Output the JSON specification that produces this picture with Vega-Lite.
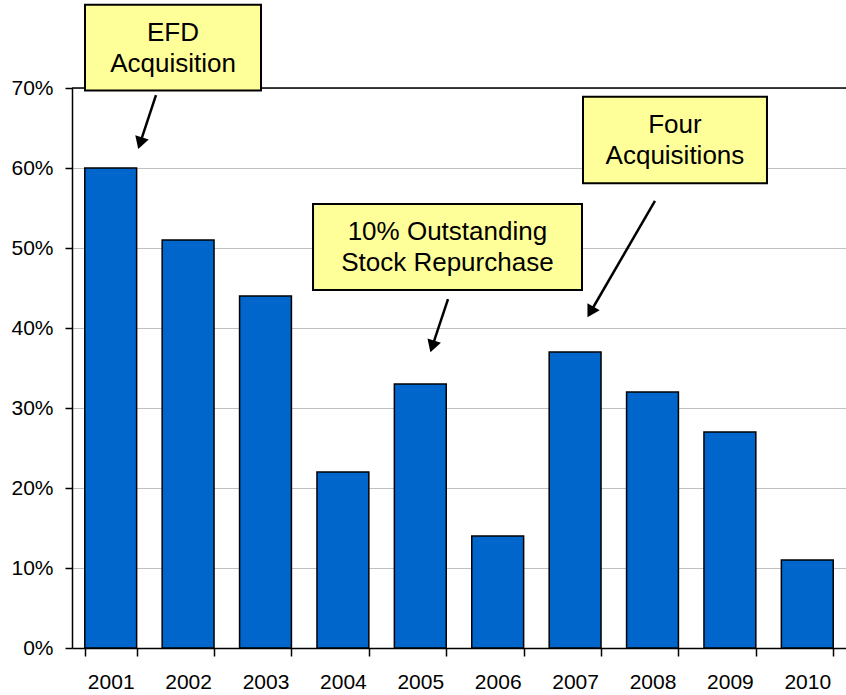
{
  "$schema": "https://vega.github.io/schema/vega-lite/v6.json",
  "width": 774,
  "height": 560,
  "autosize": {"type": "none"},
  "padding": {"left": 72, "top": 88, "right": 0, "bottom": 47},
  "config": {"font": "Liberation Sans", "view": {"stroke": null}},
  "datasets": {
    "bars": [
      {"year": "2001", "value": 0.60},
      {"year": "2002", "value": 0.51},
      {"year": "2003", "value": 0.44},
      {"year": "2004", "value": 0.22},
      {"year": "2005", "value": 0.33},
      {"year": "2006", "value": 0.14},
      {"year": "2007", "value": 0.37},
      {"year": "2008", "value": 0.32},
      {"year": "2009", "value": 0.27},
      {"year": "2010", "value": 0.11}
    ],
    "boxes": [
      {"label": ["EFD", "Acquisition"], "x1": 2000.668, "x2": 2002.942, "y1": 0.804, "y2": 0.697, "xc": 2001.805, "yc": 0.75},
      {"label": ["10% Outstanding", "Stock Repurchase"], "x1": 2003.614, "x2": 2007.089, "y1": 0.555, "y2": 0.4475, "xc": 2005.35, "yc": 0.501},
      {"label": ["Four", "Acquisitions"], "x1": 2007.102, "x2": 2009.479, "y1": 0.689, "y2": 0.581, "xc": 2008.29, "yc": 0.635}
    ],
    "arrows": [
      {"id": "efd", "x": 2001.585, "y": 0.691, "order": 0},
      {"id": "efd", "x": 2001.38, "y": 0.631, "order": 1},
      {"id": "buyback", "x": 2005.358, "y": 0.436, "order": 0},
      {"id": "buyback", "x": 2005.155, "y": 0.377, "order": 1},
      {"id": "four", "x": 2008.032, "y": 0.559, "order": 0},
      {"id": "four", "x": 2007.199, "y": 0.42, "order": 1}
    ]
  },
  "layer": [
    {
      "data": {"name": "bars"},
      "mark": {"type": "bar", "fill": "#0066CC", "stroke": "#000000", "strokeWidth": 1.5},
      "encoding": {
        "x": {
          "field": "year", "type": "ordinal",
          "scale": {"paddingInner": 0.33, "paddingOuter": 0.165},
          "axis": {"title": null, "labelAngle": 0, "tickBand": "extent", "tickSize": 8, "labelPadding": 15, "labelFontSize": 21, "labelColor": "#000000", "domainColor": "#000000", "domainWidth": 1.5, "tickColor": "#000000", "tickWidth": 1.5, "grid": false}
        },
        "y": {
          "field": "value", "type": "quantitative",
          "scale": {"domain": [0, 0.7], "nice": false},
          "axis": {"title": null, "format": ".0%", "values": [0, 0.1, 0.2, 0.3, 0.4, 0.5, 0.6, 0.7], "tickSize": 7, "labelPadding": 12, "labelFontSize": 21, "labelColor": "#000000", "domainColor": "#000000", "domainWidth": 1.5, "tickColor": "#000000", "tickWidth": 1.5, "gridColor": "#c0c0c0", "gridWidth": 1}
        }
      }
    },
    {
      "data": {"values": [{}]},
      "mark": {"type": "rule", "color": "#000000", "strokeWidth": 1.5},
      "encoding": {"y": {"datum": 0.7}}
    },
    {
      "data": {"name": "boxes"},
      "mark": {"type": "rect", "fill": "#FFFF99", "stroke": "#000000", "strokeWidth": 2},
      "encoding": {
        "x": {"field": "x1", "type": "quantitative", "scale": {"domain": [2000.5, 2010.5], "nice": false, "zero": false}, "axis": null},
        "x2": {"field": "x2"},
        "y": {"field": "y1", "type": "quantitative"},
        "y2": {"field": "y2"}
      }
    },
    {
      "data": {"name": "boxes"},
      "mark": {"type": "text", "fontSize": 26, "color": "#000000", "baseline": "middle", "align": "center", "lineHeight": 31, "dy": -15},
      "encoding": {
        "x": {"field": "xc", "type": "quantitative", "scale": {"domain": [2000.5, 2010.5], "nice": false, "zero": false}, "axis": null},
        "y": {"field": "yc", "type": "quantitative"},
        "text": {"field": "label"}
      }
    },
    {
      "data": {"name": "arrows"},
      "mark": {"type": "line", "color": "#000000", "strokeWidth": 2.5},
      "encoding": {
        "x": {"field": "x", "type": "quantitative", "scale": {"domain": [2000.5, 2010.5], "nice": false, "zero": false}, "axis": null},
        "y": {"field": "y", "type": "quantitative"},
        "detail": {"field": "id"},
        "order": {"field": "order"}
      }
    },
    {
      "data": {"name": "arrows"},
      "transform": [{"filter": "datum.id == 'efd' && datum.order == 1"}],
      "mark": {"type": "point", "shape": "triangle-up", "filled": true, "color": "#000000", "opacity": 1, "size": 200, "angle": 198},
      "encoding": {
        "x": {"field": "x", "type": "quantitative", "scale": {"domain": [2000.5, 2010.5], "nice": false, "zero": false}, "axis": null},
        "y": {"field": "y", "type": "quantitative"}
      }
    },
    {
      "data": {"name": "arrows"},
      "transform": [{"filter": "datum.id == 'buyback' && datum.order == 1"}],
      "mark": {"type": "point", "shape": "triangle-up", "filled": true, "color": "#000000", "opacity": 1, "size": 200, "angle": 198},
      "encoding": {
        "x": {"field": "x", "type": "quantitative", "scale": {"domain": [2000.5, 2010.5], "nice": false, "zero": false}, "axis": null},
        "y": {"field": "y", "type": "quantitative"}
      }
    },
    {
      "data": {"name": "arrows"},
      "transform": [{"filter": "datum.id == 'four' && datum.order == 1"}],
      "mark": {"type": "point", "shape": "triangle-up", "filled": true, "color": "#000000", "opacity": 1, "size": 200, "angle": 210},
      "encoding": {
        "x": {"field": "x", "type": "quantitative", "scale": {"domain": [2000.5, 2010.5], "nice": false, "zero": false}, "axis": null},
        "y": {"field": "y", "type": "quantitative"}
      }
    }
  ],
  "resolve": {"scale": {"x": "independent"}}
}
